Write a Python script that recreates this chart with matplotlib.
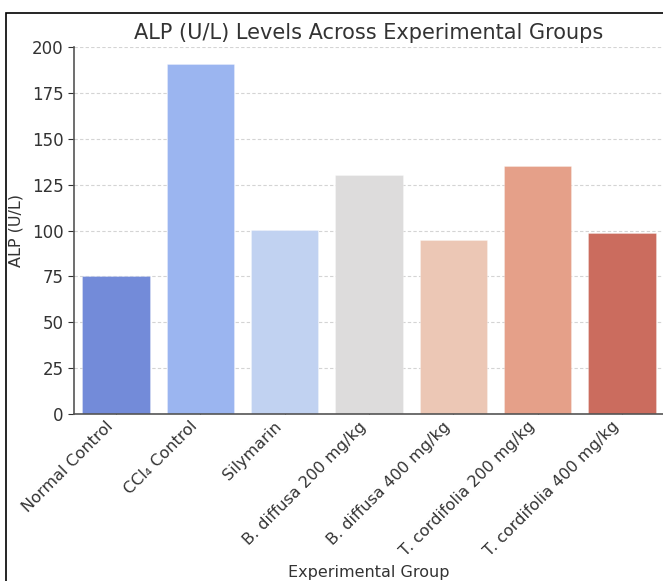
import matplotlib
matplotlib.use("Agg")
import matplotlib.pyplot as plt
import seaborn as sns
from matplotlib.patches import Rectangle

groups = ["Normal Control", "CCl\u2084 Control", "Silymarin", "B. diffusa 200 mg/kg",
          "B. diffusa 400 mg/kg", "T. cordifolia 200 mg/kg", "T. cordifolia 400 mg/kg"]
alp_values = [75, 191, 100.5, 130.5, 95, 135, 98.5]

plt.rcParams['font.family'] = ['DejaVu Sans']
text_col = "#333333"

W, H = 663, 581
fig = plt.figure(figsize=(W / 100, H / 100), dpi=100)
ax = fig.add_axes([74 / W, (H - 414) / H, (664 - 74) / W, (414 - 47) / H])

colors = sns.color_palette("coolwarm", len(groups))
sns.barplot(x=groups, y=alp_values, hue=groups, palette=colors, legend=False,
            saturation=0.75, ax=ax, edgecolor=(1, 1, 1, 0.4), linewidth=0.5, zorder=2)

ax.set_ylim(0, 200)
ax.set_yticks(range(0, 201, 25))
ax.grid(axis="y", linestyle=(0, (3, 2)), color="#d4d4d4", linewidth=0.8, zorder=0)
ax.set_axisbelow(True)
for s in ["top", "right"]:
    ax.spines[s].set_visible(False)
for s in ["left", "bottom"]:
    ax.spines[s].set_color("#555555")
    ax.spines[s].set_linewidth(1.2)

ax.tick_params(axis="y", labelsize=12, colors=text_col, length=4)
ax.tick_params(axis="x", labelsize=11.5, colors=text_col, direction="in", length=4)
plt.setp(ax.get_xticklabels(), rotation=45, ha="right")

ax.set_title("ALP (U/L) Levels Across Experimental Groups", fontsize=15, color=text_col, pad=6)
ax.set_ylabel("ALP (U/L)", fontsize=11.5, color=text_col, labelpad=6)
ax.set_xlabel("Experimental Group", fontsize=11.5, color=text_col)

fig.patches.append(Rectangle((6 / W, -0.1), 1.2, (H - 13) / H + 0.1, transform=fig.transFigure,
                             fill=False, edgecolor="black", linewidth=1.2, clip_on=False))

fig.savefig("out.png", dpi=100)
